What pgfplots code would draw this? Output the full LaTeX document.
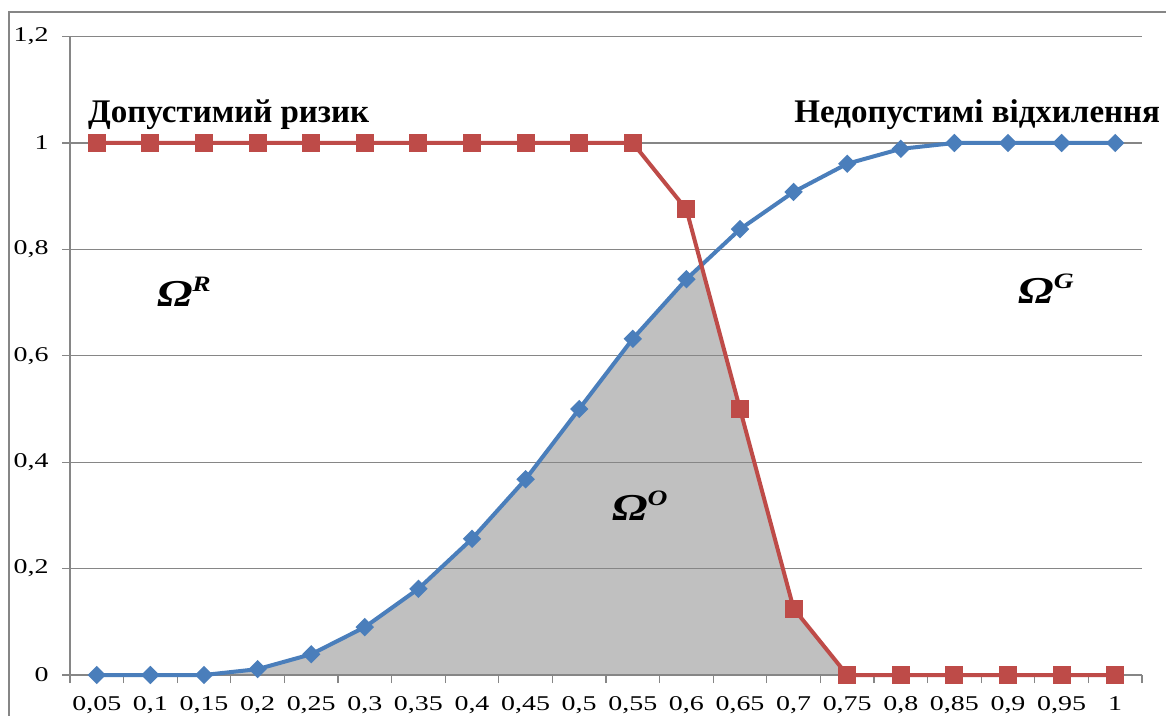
\documentclass[border=0pt]{standalone}
\usepackage{fontspec}
\setmainfont{Liberation Serif}
\newfontfamily\tickfont{Liberation Serif}[FakeStretch=1.33]
\newfontfamily\omgfont{Liberation Serif}[FakeStretch=1.25]
\usepackage{pgfplots}
\pgfplotsset{compat=1.18}
\usepackage{pgfplotstable}
\usepgfplotslibrary{fillbetween}

\definecolor{lineblue}{HTML}{4A7EBB}
\definecolor{linered}{HTML}{BE4B48}
\definecolor{gridgray}{HTML}{868686}
\definecolor{fillgray}{HTML}{C0C0C0}

% category index, value
\pgfplotstableread{
x y
1 0
2 0
3 0
4 0.011
5 0.039
6 0.090
7 0.162
8 0.256
9 0.368
10 0.5
11 0.632
12 0.744
13 0.838
14 0.908
15 0.961
16 0.989
17 1
18 1
19 1
20 1
}\bluedata

\pgfplotstableread{
x y
1 1
2 1
3 1
4 1
5 1
6 1
7 1
8 1
9 1
10 1
11 1
12 0.875
13 0.5
14 0.125
15 0
16 0
17 0
18 0
19 0
20 0
}\reddata

\newcommand{\omg}[1]{\omgfont\fontsize{38}{38}\selectfont\bfseries\itshape Ω\raisebox{15pt}{\fontsize{22}{22}\selectfont #1}}

\begin{document}
\begin{tikzpicture}
\draw[gridgray, line width=1.5pt] (9pt,703pt) rectangle (1190pt,-20pt);
\begin{axis}[
    at={(70pt,40pt)}, anchor=south west,
    scale only axis, width=1072pt, height=638.4pt,
    set layers, clip=false,
    xmin=0.5, xmax=20.5, ymin=0, ymax=1.2,
    axis x line*=bottom, axis y line*=left,
    axis line style={gridgray, line width=1.2pt, -},
    tick align=outside,
    tick style={gridgray, line width=1.2pt},
    major tick length=8pt,
    xtick={0.5,1.5,...,20.5}, xticklabels={},
    extra x ticks={1,2,...,20},
    extra x tick labels={{0,05},{0,1},{0,15},{0,2},{0,25},{0,3},{0,35},{0,4},{0,45},{0,5},{0,55},{0,6},{0,65},{0,7},{0,75},{0,8},{0,85},{0,9},{0,95},{1}},
    extra x tick style={major tick length=0pt},
    ytick={0,0.2,0.4,0.6,0.8,1,1.2},
    yticklabels={0,{0,2},{0,4},{0,6},{0,8},1,{1,2}},
    ymajorgrids,
    major grid style={gridgray, line width=1.2pt},
    tick label style={font=\tickfont\fontsize{21}{21}\selectfont},
    xticklabel style={yshift=-18pt},
    yticklabel style={xshift=-10pt},
]
\addplot[draw=none, name path=b, forget plot] table[x=x, y=y] {\bluedata};
\addplot[draw=none, name path=r, forget plot] table[x=x, y=y] {\reddata};
\begin{pgfonlayer}{axis background}
\fill[fillgray, intersection segments={of=b and r, sequence={L1 -- R2}}];
\end{pgfonlayer}

\addplot[lineblue, line width=4pt, mark=square*, mark size=4.5pt,
    mark options={rotate=45, solid}] table[x=x, y=y] {\bluedata};
\addplot[linered, line width=4pt, mark=square*, mark size=7pt,
    mark options={solid}] table[x=x, y=y] {\reddata};

\node[anchor=base west, inner sep=0pt, font=\fontsize{33}{33}\selectfont\bfseries]
    at (axis cs:0.836,1.0376) {Допустимий ризик};
\node[anchor=base east, inner sep=0pt, font=\fontsize{33}{33}\selectfont\bfseries]
    at (axis cs:20.84,1.0376) {Недопустимі відхилення};
\node[anchor=base west, inner sep=0pt] at (axis cs:2.12,0.692) {\omg{R}};
\node[anchor=base west, inner sep=0pt] at (axis cs:18.19,0.699) {\omg{G}};
\node[anchor=base west, inner sep=0pt] at (axis cs:10.61,0.291) {\omg{O}};
\end{axis}
\pgfresetboundingbox
\useasboundingbox (0,0) rectangle (1166pt,715pt);
\end{tikzpicture}
\end{document}
